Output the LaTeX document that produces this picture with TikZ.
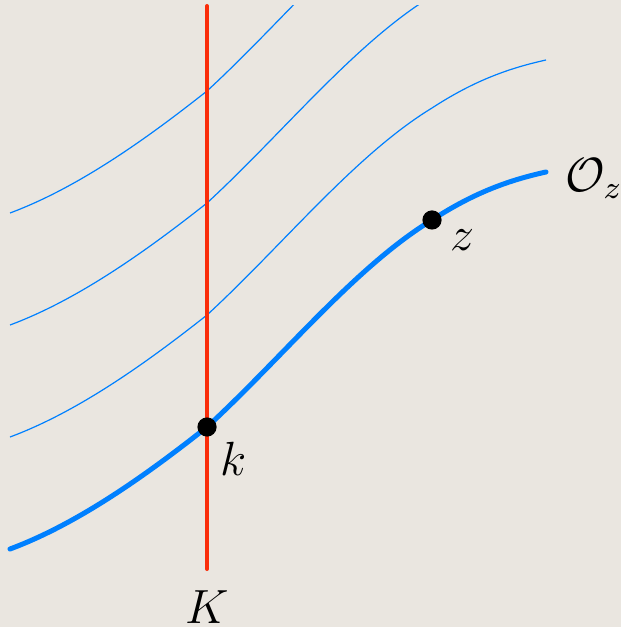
\documentclass[tikz,border=0pt]{standalone}
\definecolor{bgc}{RGB}{234,230,224}
\definecolor{curveblue}{RGB}{0,128,255}
\definecolor{linered}{RGB}{250,45,10}
\begin{document}
\begin{tikzpicture}[x=0.25pt,y=-0.25pt,
  dot/.style={circle,fill=black,inner sep=0pt,minimum size=4.8pt},
  lbl/.style={inner sep=0pt,font=\fontsize{11.5}{13}\selectfont},
  thickcurve/.style={curveblue,line width=1.25pt,line cap=round},
  thincurve/.style={curveblue,line width=0.3pt},
  redline/.style={linered,line width=1pt,line cap=round}]
\fill[bgc] (0,0) rectangle (621,627);
\useasboundingbox (0,0) rectangle (621,627);
% thin translated copies
\begin{scope}
\clip (0,6) rectangle (621,627);
\foreach \s in {112,224,336}{
  \begin{scope}[yshift=\s*0.25pt]
  \draw[thincurve] (10,549) .. controls (80,523) and (150,472) .. (207,427)
    .. controls (283,357) and (355,267) .. (432,220)
    .. controls (475,192) and (510,180) .. (546,172);
  \end{scope}
}
\end{scope}
% red line
\coordinate (Ktop) at (207,6);
\coordinate (Kbot) at (207,569);
\draw[redline] (Ktop) -- (Kbot);
% thick curve
\draw[thickcurve] (10,549) .. controls (80,523) and (150,472) .. (207,427)
    .. controls (283,357) and (355,267) .. (432,220)
    .. controls (475,192) and (510,180) .. (546,172);
\node[dot] (k) at (207,427) {};
\node[dot] (z) at (432,220) {};
\node[lbl] (klbl) at (234,459) {$k$};
\node[lbl] (zlbl) at (462,240) {$z$};
\node[lbl] (Olbl) at (594,179) {$\mathcal{O}_z$};
\node[lbl] (Klbl) at (207,607) {$K$};
\end{tikzpicture}
\end{document}
